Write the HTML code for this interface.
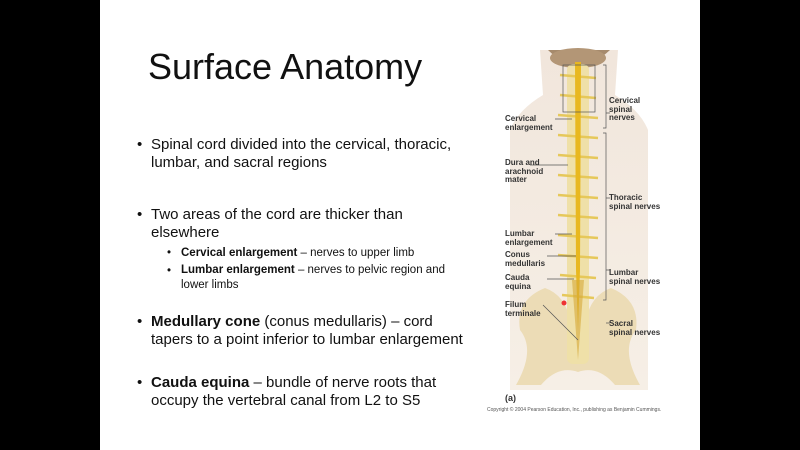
<!DOCTYPE html>
<html><head><meta charset="utf-8"><style>
body{margin:0;width:800px;height:450px;background:#000;position:relative;overflow:hidden;font-family:"Liberation Sans",sans-serif}
#s{position:absolute;left:100px;top:0;width:600px;height:450px;background:#fff}
.t{position:absolute;color:#111;white-space:nowrap}
.b{font-size:15px;line-height:18px}
.sb{font-size:11.5px;line-height:16px}
.l{position:absolute;font-size:8px;line-height:8.5px;font-weight:bold;color:#333;white-space:nowrap}
</style></head><body>
<div id="s"></div>
<div class="t" style="left:148px;top:46px;font-size:36px">Surface Anatomy</div>
<div class="t b" style="left:137px;top:136px">•</div>
<div class="t b" style="left:151px;top:136px">Spinal cord divided into the cervical, thoracic,<br>lumbar, and sacral regions</div>
<div class="t b" style="left:137px;top:206px">•</div>
<div class="t b" style="left:151px;top:206px">Two areas of the cord are thicker than<br>elsewhere</div>
<div class="t sb" style="left:167px;top:245px">•</div>
<div class="t sb" style="left:181px;top:245px"><b>Cervical enlargement</b> – nerves to upper limb</div>
<div class="t sb" style="left:167px;top:263px">•</div>
<div class="t sb" style="left:181px;top:263px;line-height:15px"><b>Lumbar enlargement</b> – nerves to pelvic region and<br>lower limbs</div>
<div class="t b" style="left:137px;top:313px">•</div>
<div class="t b" style="left:151px;top:313px"><b>Medullary cone</b> (conus medullaris) – cord<br>tapers to a point inferior to lumbar enlargement</div>
<div class="t b" style="left:137px;top:374px">•</div>
<div class="t b" style="left:151px;top:374px"><b>Cauda equina</b> – bundle of nerve roots that<br>occupy the vertebral canal from L2 to S5</div>

<svg style="position:absolute;left:0;top:0" width="800" height="450">
<defs><linearGradient id="bg" x1="0" y1="0" x2="0" y2="1"><stop offset="0" stop-color="#f1e6dc"/><stop offset="1" stop-color="#f6efe6"/></linearGradient></defs>
<path d="M540,50 L618,50 L615,95 Q640,110 648,130 L648,390 L510,390 L510,130 Q518,110 543,95 Z" fill="url(#bg)"/>
<path d="M548,50 Q578,80 610,50 Z" fill="#a68a6c"/>
<ellipse cx="578" cy="58" rx="28" ry="10" fill="#b39676"/>
<path d="M520,330 Q515,300 545,288 Q565,295 570,320 L586,320 Q591,295 611,288 Q640,300 636,330 Q620,350 640,385 L615,385 Q598,365 578,372 Q558,365 541,385 L516,385 Q536,350 520,330 Z" fill="#ecdcb6"/>
<rect x="567" y="64" width="22" height="300" fill="#efe0a8" rx="6"/>
<g stroke="#e6c85a" stroke-width="2.5">
<line x1="560" y1="75" x2="596" y2="78"/><line x1="560" y1="95" x2="596" y2="98"/><line x1="558" y1="115" x2="598" y2="118"/><line x1="558" y1="135" x2="598" y2="138"/><line x1="558" y1="155" x2="598" y2="158"/><line x1="558" y1="175" x2="598" y2="178"/><line x1="558" y1="195" x2="598" y2="198"/><line x1="558" y1="215" x2="598" y2="218"/><line x1="558" y1="235" x2="598" y2="238"/><line x1="558" y1="255" x2="598" y2="258"/><line x1="560" y1="275" x2="596" y2="278"/><line x1="562" y1="295" x2="594" y2="298"/>
</g>
<path d="M575,62 L581,62 L580,270 L578,330 L576,270 Z" fill="#e8b820"/>
<path d="M572,280 L578,360 L584,280 Z" fill="#d6a838" opacity=".6"/>
<circle cx="564" cy="303" r="2.5" fill="#e33"/>
<g stroke="#555" stroke-width=".7" fill="none">
<rect x="563" y="65" width="32" height="47"/>
<path d="M603,65 L606,65 L606,128 L603,128 M603,133 L606,133 L606,300 L603,300 M606,198 L610,198 M606,113 L610,113 M606,270 L610,270 M606,323 L610,323"/>
<line x1="555" y1="119" x2="572" y2="119"/><line x1="530" y1="165" x2="568" y2="165"/><line x1="555" y1="234" x2="572" y2="234"/><line x1="547" y1="256" x2="576" y2="256"/><line x1="547" y1="279" x2="574" y2="279"/><line x1="543" y1="305" x2="578" y2="340"/>
</g>
</svg>
<div class="l" style="left:505px;top:115px">Cervical<br>enlargement</div>
<div class="l" style="left:505px;top:159px">Dura and<br>arachnoid<br>mater</div>
<div class="l" style="left:505px;top:230px">Lumbar<br>enlargement</div>
<div class="l" style="left:505px;top:251px">Conus<br>medullaris</div>
<div class="l" style="left:505px;top:274px">Cauda<br>equina</div>
<div class="l" style="left:505px;top:301px">Filum<br>terminale</div>
<div class="l" style="left:609px;top:97px">Cervical<br>spinal<br>nerves</div>
<div class="l" style="left:609px;top:194px">Thoracic<br>spinal nerves</div>
<div class="l" style="left:609px;top:269px">Lumbar<br>spinal nerves</div>
<div class="l" style="left:609px;top:320px">Sacral<br>spinal nerves</div>
<div class="l" style="left:505px;top:394px;font-size:9px">(a)</div>
<div class="t" style="left:487px;top:407px;font-size:5px;color:#555">Copyright © 2004 Pearson Education, Inc., publishing as Benjamin Cummings.</div>
</body></html>
